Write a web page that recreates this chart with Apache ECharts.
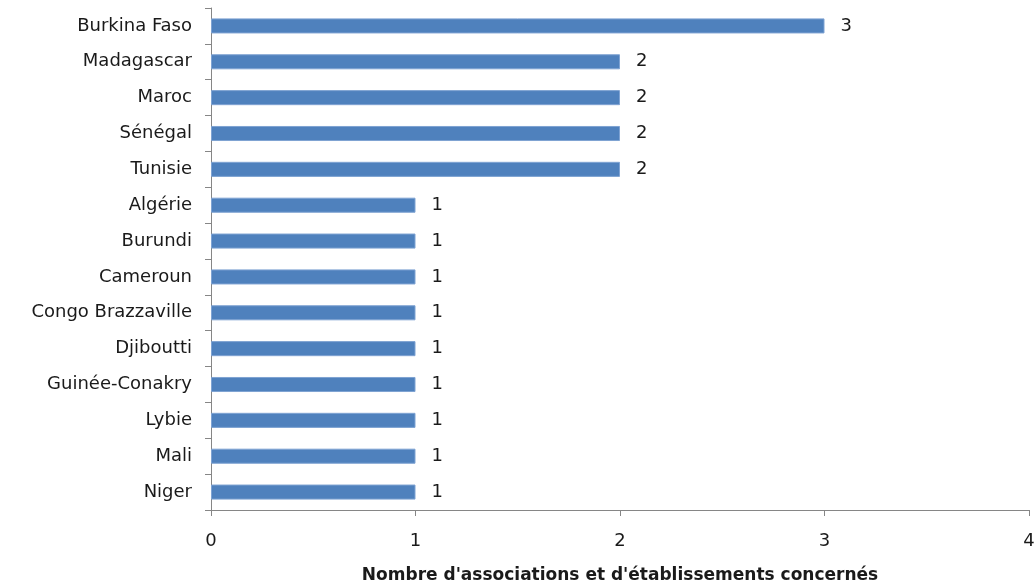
<!DOCTYPE html>
<html><head><meta charset="utf-8">
<script src="https://cdn.jsdelivr.net/npm/echarts@6/dist/echarts.min.js"></script>
<style>html,body{margin:0;padding:0;background:#fff}#c{width:1034px;height:586px}</style>
</head><body><div id="c"></div>
<script>
const categories = ["Burkina Faso","Madagascar","Maroc","Sénégal","Tunisie","Algérie","Burundi","Cameroun","Congo Brazzaville","Djiboutti","Guinée-Conakry","Lybie","Mali","Niger"];
const values = [3,2,2,2,2,1,1,1,1,1,1,1,1,1];
const xTitle = "Nombre d'associations et d'établissements concernés";
const font = "'DejaVu Sans', sans-serif";
const chart = echarts.init(document.getElementById('c'));
chart.setOption({
  animation:false,
  grid:{left:211,right:5,top:8,bottom:76,containLabel:false,outerBoundsMode:'none'},
  xAxis:{type:'value',min:0,max:4,interval:1,
    name:xTitle,nameLocation:'middle',nameGap:57,
    nameTextStyle:{fontFamily:font,fontWeight:'bold',fontSize:17,color:'#1a1a1a'},
    axisLine:{show:true,lineStyle:{color:'#868686'}},
    axisTick:{show:true,length:6,lineStyle:{color:'#868686'}},
    splitLine:{show:false},
    axisLabel:{fontFamily:font,fontSize:18,color:'#1a1a1a',margin:22}},
  yAxis:{type:'category',data:categories,inverse:true,
    axisLine:{lineStyle:{color:'#868686'}},
    axisTick:{show:true,length:6,lineStyle:{color:'#868686'}},
    axisLabel:{fontFamily:font,fontSize:18,color:'#1a1a1a',margin:19}},
  series:[{type:'bar',data:values,barWidth:'42%',
    itemStyle:{color:'#4F81BD',borderColor:'#7FA3D3',borderWidth:1},
    label:{show:true,position:'right',distance:16,fontFamily:font,fontSize:18,color:'#1a1a1a'}}]
});
</script></body></html>
